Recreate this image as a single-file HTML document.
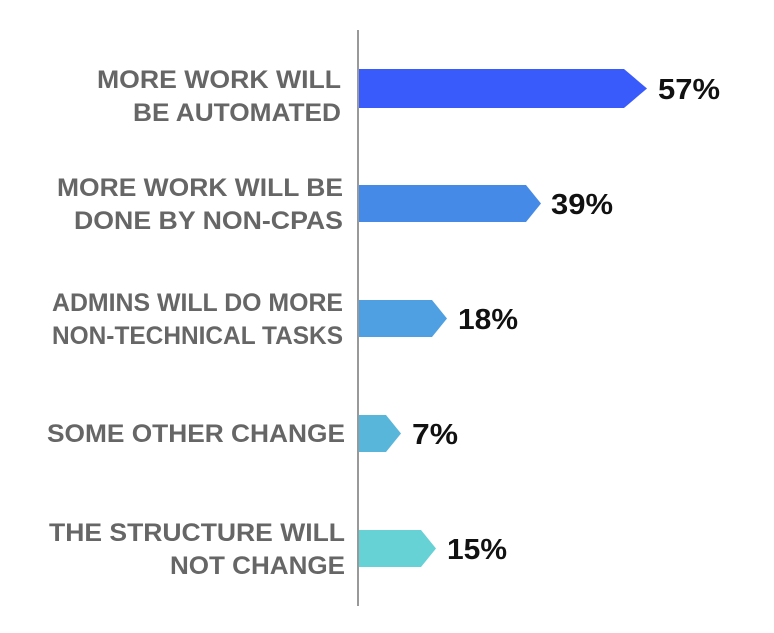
<!DOCTYPE html>
<html><head><meta charset="utf-8"><style>
html,body{margin:0;padding:0;background:#fff;}
svg{display:block;}
.l{font-family:"Liberation Sans",sans-serif;font-weight:bold;font-size:25px;fill:#666;}
.v{font-family:"Liberation Sans",sans-serif;font-weight:bold;font-size:29px;fill:#111;}
</style></head><body>
<svg width="774" height="633" viewBox="0 0 774 633" xmlns="http://www.w3.org/2000/svg">
<line x1="358" y1="30" x2="358" y2="606" stroke="#999" stroke-width="2"/>
<polygon points="359,69 624,69 647,88.5 624,108 359,108" fill="#3a5bfb"/>
<polygon points="359,185 526,185 541,203.5 526,222 359,222" fill="#468ae8"/>
<polygon points="359,300 432,300 447,318.5 432,337 359,337" fill="#4fa0e3"/>
<polygon points="359,415 386,415 401,433.5 386,452 359,452" fill="#58b6db"/>
<polygon points="359,530 421,530 436,548.5 421,567 359,567" fill="#66d2d6"/>
<text class="l" x="97" y="88" textLength="244" lengthAdjust="spacingAndGlyphs">MORE WORK WILL</text>
<text class="l" x="133" y="121" textLength="208" lengthAdjust="spacingAndGlyphs">BE AUTOMATED</text>
<text class="l" x="57" y="196" textLength="286" lengthAdjust="spacingAndGlyphs">MORE WORK WILL BE</text>
<text class="l" x="74" y="229" textLength="269" lengthAdjust="spacingAndGlyphs">DONE BY NON-CPAS</text>
<text class="l" x="52" y="311" textLength="291" lengthAdjust="spacingAndGlyphs">ADMINS WILL DO MORE</text>
<text class="l" x="52" y="344" textLength="291" lengthAdjust="spacingAndGlyphs">NON-TECHNICAL TASKS</text>
<text class="l" x="47" y="442" textLength="298" lengthAdjust="spacingAndGlyphs">SOME OTHER CHANGE</text>
<text class="l" x="49" y="541" textLength="296" lengthAdjust="spacingAndGlyphs">THE STRUCTURE WILL</text>
<text class="l" x="170" y="574" textLength="175" lengthAdjust="spacingAndGlyphs">NOT CHANGE</text>
<text class="v" x="658" y="99" textLength="62" lengthAdjust="spacingAndGlyphs">57%</text>
<text class="v" x="551" y="214" textLength="62" lengthAdjust="spacingAndGlyphs">39%</text>
<text class="v" x="458" y="329" textLength="60" lengthAdjust="spacingAndGlyphs">18%</text>
<text class="v" x="412" y="444" textLength="46" lengthAdjust="spacingAndGlyphs">7%</text>
<text class="v" x="447" y="559" textLength="60" lengthAdjust="spacingAndGlyphs">15%</text>
</svg>
</body></html>
